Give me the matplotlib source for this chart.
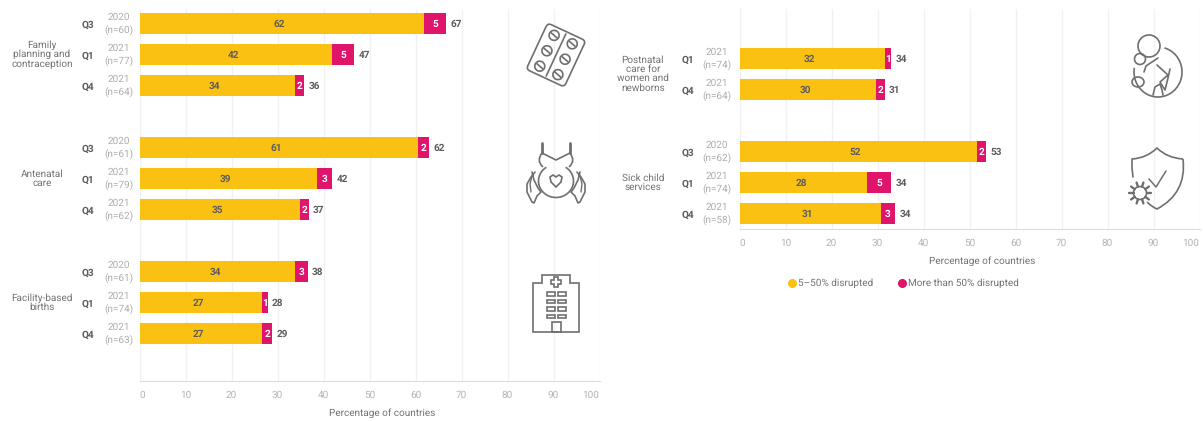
import matplotlib
matplotlib.use('Agg')
import matplotlib.pyplot as plt
import numpy as np
from matplotlib.lines import Line2D
from matplotlib.patches import Circle, Ellipse, FancyBboxPatch, PathPatch, Polygon, Rectangle, Arc
from matplotlib.path import Path
from matplotlib.transforms import Affine2D

plt.rcParams['font.family'] = ['Roboto', 'DejaVu Sans']
plt.rcParams['text.hinting'] = 'none'
plt.rcParams['text.hinting_factor'] = 1

W, H = 1203, 421
YELLOW = '#FBC112'
PINK = '#E0146B'
DARK = '#5c5c5c'
MID = '#737373'
LIGHT = '#adadad'
GRID = '#f1f1f1'
ICON = '#6f6f6f'

# left panel
left_quarters = ['Q3', 'Q1', 'Q4', 'Q3', 'Q1', 'Q4', 'Q3', 'Q1', 'Q4']
left_years = ['2020', '2021', '2021', '2020', '2021', '2021', '2020', '2021', '2021']
left_n = ['(n=60)', '(n=77)', '(n=64)', '(n=61)', '(n=79)', '(n=62)', '(n=61)', '(n=74)', '(n=63)']
left_rows = [0, 1, 2, 4, 5, 6, 8, 9, 10]
left_mid = [61.8, 41.8, 33.8, 60.6, 38.6, 34.8, 33.9, 26.7, 26.7]
left_high = [4.9, 4.9, 2.0, 2.3, 3.3, 2.0, 2.7, 1.2, 2.1]
left_mid_lab = [62, 42, 34, 61, 39, 35, 34, 27, 27]
left_high_lab = [5, 5, 2, 2, 3, 2, 3, 1, 2]
left_total_lab = [67, 47, 36, 62, 42, 37, 38, 28, 29]
left_groups = ['Family\nplanning and\ncontraception', 'Antenatal\ncare', 'Facility-based\nbirths']
left_group_rows = [1, 5, 9]

# right panel
right_quarters = ['Q1', 'Q4', 'Q3', 'Q1', 'Q4']
right_years = ['2021', '2021', '2020', '2021', '2021']
right_n = ['(n=74)', '(n=64)', '(n=62)', '(n=74)', '(n=58)']
right_rows = [0, 1, 3, 4, 5]
right_mid = [31.6, 29.7, 51.6, 27.8, 30.7]
right_high = [1.4, 1.9, 2.0, 5.2, 3.1]
right_mid_lab = [32, 30, 52, 28, 31]
right_high_lab = [1, 2, 2, 5, 3]
right_total_lab = [34, 31, 53, 34, 34]
right_groups = ['Postnatal\ncare for\nwomen and\nnewborns', 'Sick child\nservices']
right_group_rows = [0.5, 4]

fig = plt.figure(figsize=(W / 100, H / 100), dpi=100)


def px_axes(x0, x1, y0, y1, **kw):
    return fig.add_axes([x0 / W, 1 - y1 / H, (x1 - x0) / W, (y1 - y0) / H], **kw)


def panel(ax, rows, mid, high, mid_lab, high_lab, total_lab, quarters, years, ns,
          groups, group_rows, q_x, y_x, g_x, ylim):
    ax.set_xlim(0, 100)
    ax.set_ylim(*ylim)
    ax.barh(rows, mid, height=0.68, color=YELLOW, zorder=3)
    ax.barh(rows, high, left=mid, height=0.68, color=PINK, zorder=3)
    px = 100 / 460  # one pixel in axis units
    row_px = 1 / 31
    for i, r in enumerate(rows):
        ty = r + row_px
        ax.text(mid[i] / 2 - 2.5 * px, ty, str(mid_lab[i]), ha='center', va='center', fontsize=7.5,
                fontweight='bold', color=DARK, zorder=4)
        ax.text(mid[i] + high[i] / 2, ty, str(high_lab[i]), ha='center', va='center', fontsize=7.5,
                fontweight='bold', color='white', zorder=4)
        ax.text(mid[i] + high[i] + 10 * px, ty, str(total_lab[i]), ha='center', va='center',
                fontsize=7.5, fontweight='bold', color=DARK)
        ax.text(q_x, r + 1.5 * row_px, quarters[i], ha='center', va='center', fontsize=7.5,
                fontweight='bold', color=DARK, clip_on=False)
        ax.text(y_x, r - 6 * row_px, years[i], ha='center', va='center', fontsize=7,
                color=LIGHT, clip_on=False)
        ax.text(y_x, r + 6 * row_px, ns[i], ha='center', va='center', fontsize=7,
                color=LIGHT, clip_on=False)
    for g, r in zip(groups, group_rows):
        ax.text(g_x, r, g, ha='center', va='center', fontsize=7.2, color=MID, linespacing=0.95,
                clip_on=False)
    ax.set_xticks(np.arange(0, 101, 10))
    ax.set_yticks([])
    ax.tick_params(axis='x', length=0, labelsize=7, labelcolor='#b3b3b3', pad=7)
    labs = ax.get_xticklabels()
    labs[0].set_ha('left')
    labs[-1].set_ha('right')
    ax.grid(axis='x', color=GRID, linewidth=1, zorder=0)
    ax.set_axisbelow(True)
    for s in ['top', 'right']:
        ax.spines[s].set_visible(False)
    ax.spines['left'].set_color(GRID)
    ax.spines['bottom'].set_color('#dcdcdc')
    ax.set_xlabel('Percentage of countries', fontsize=7.2, color=MID, labelpad=6, x=0.527)


ax1 = px_axes(139.5, 599.5, 9, 381)
panel(ax1, left_rows, left_mid, left_high, left_mid_lab, left_high_lab, left_total_lab,
      left_quarters, left_years, left_n, left_groups, left_group_rows,
      -11.3, -4.5, -21.2, (11.53, -0.47))

ax2 = px_axes(739.5, 1199.5, 9, 229)
panel(ax2, right_rows, right_mid, right_high, right_mid_lab, right_high_lab, right_total_lab,
      right_quarters, right_years, right_n, right_groups, right_group_rows,
      -11.3, -5, -21, (5.5, -1.6))

handles = [Line2D([], [], marker='o', linestyle='none', color=YELLOW, markersize=5.5),
           Line2D([], [], marker='o', linestyle='none', color=PINK, markersize=5.5)]
fig.legend(handles, ['5–50% disrupted', 'More than 50% disrupted'], loc='center',
           bbox_to_anchor=(903 / W, 1 - 283.5 / H), ncol=2, frameon=False, fontsize=7.2,
           labelcolor=MID, handlelength=1, handletextpad=0.1, columnspacing=2.3, borderpad=0)

# icons, drawn on a full figure layer in pixel units
ov = fig.add_axes([0, 0, 1, 1], zorder=5)
ov.set_xlim(0, W)
ov.set_ylim(H, 0)
ov.axis('off')
ov.patch.set_alpha(0)
st = dict(fill=False, edgecolor=ICON, linewidth=1.2)


def pl(xs, ys, lw=1.2):
    ov.plot(xs, ys, color=ICON, lw=lw, solid_capstyle='round', solid_joinstyle='round')


def curve(pts, lw=1.2):
    # smooth path through quadratic control points: start, ctrl, end, ctrl, end ...
    codes = [Path.MOVETO] + [Path.CURVE3] * (len(pts) - 1)
    ov.add_patch(PathPatch(Path(pts, codes), fill=False, edgecolor=ICON, linewidth=lw))


# blister pack
rot = Affine2D().rotate_deg_around(556, 55, 25) + ov.transData
ov.add_patch(FancyBboxPatch((535, 29.5), 42, 51, boxstyle='round,pad=0,rounding_size=4',
                            transform=rot, **st))
ov.plot([556, 556], [32, 78], color=ICON, lw=1.2, transform=rot)
for px_ in [546, 566]:
    for py_ in [38, 55, 72]:
        ov.add_patch(Circle((px_, py_), 5, transform=rot, **st))
        ov.plot([px_ - 3.5, px_ + 3.5], [py_ - 1, py_ + 1], color=ICON, lw=1.2, transform=rot)

# pregnant belly and hands
pl([542, 542], [143, 153], lw=2)
pl([570, 570], [143, 153], lw=2)
pl([542, 556, 570], [153, 160, 153], lw=1.2)
curve([(542, 153), (536, 161), (543, 167)])
curve([(570, 153), (576, 161), (569, 167)])
ov.add_patch(Arc((556, 181), 35, 33, theta1=-55, theta2=235, **st))
ov.add_patch(Polygon([[550, 177], [553, 175], [556, 177], [559, 175], [562, 177], [561, 182], [556, 187], [551, 182]],
                     closed=True, **st))
for sgn in [-1, 1]:
    xs = 556 + sgn * np.array([21, 25, 29, 29, 24, 22, 19, 15, 18, 22, 24])
    ys = [172, 177, 184, 192, 202, 203, 196, 192, 188, 180, 172]
    pl(xs, ys)
    pl(556 + sgn * np.array([24, 26, 25]), [176, 184, 192], lw=1)

# hospital
ov.add_patch(Polygon([[533, 332], [533, 283], [542, 283], [542, 275], [570, 275], [570, 283], [579, 283], [579, 332]],
                     closed=True, **st))
ov.add_patch(Rectangle((552, 322), 9, 10, **st))
ov.add_patch(Polygon([[554, 277], [558, 277], [558, 280], [561, 280], [561, 284], [558, 284], [558, 287],
                      [554, 287], [554, 284], [551, 284], [551, 280], [554, 280]], closed=True, **st))
for wx in [547, 558]:
    for wy in [292, 299.5, 307, 314.5]:
        ov.add_patch(Rectangle((wx, wy), 8, 3.5, **st))

# mother and child
ov.add_patch(Circle((1149, 46), 11, **st))
ov.add_patch(Arc((1158, 72), 48, 50, theta1=-75, theta2=190, **st))
ov.add_patch(Circle((1140, 59), 5.5, **st))
ov.add_patch(Ellipse((1138, 82), 12, 10, **st))
pl([1157, 1168, 1160, 1165, 1168, 1170], [65, 75, 82, 90, 78, 69])
pl([1153, 1155, 1160, 1162, 1163], [95, 87, 84, 90, 95])
pl([1158, 1146, 1144], [58, 66, 72])

# shield and virus
pl([1133, 1132, 1132], [177, 168, 159])
curve([(1132, 159), (1147, 158), (1157, 148), (1167, 158), (1183, 159)])
curve([(1183, 159), (1187, 193), (1157, 209), (1152, 207), (1147, 202)])
pl([1149, 1156, 1166], [179, 187, 171], lw=1.1)
ov.add_patch(Circle((1140, 193), 6.5, **st))
for a in np.deg2rad(np.arange(0, 360, 36)):
    pl([1140 + 6.5 * np.cos(a), 1140 + 11 * np.cos(a)], [193 + 6.5 * np.sin(a), 193 + 11 * np.sin(a)], lw=1.7)

fig.savefig('out.png', dpi=100)
